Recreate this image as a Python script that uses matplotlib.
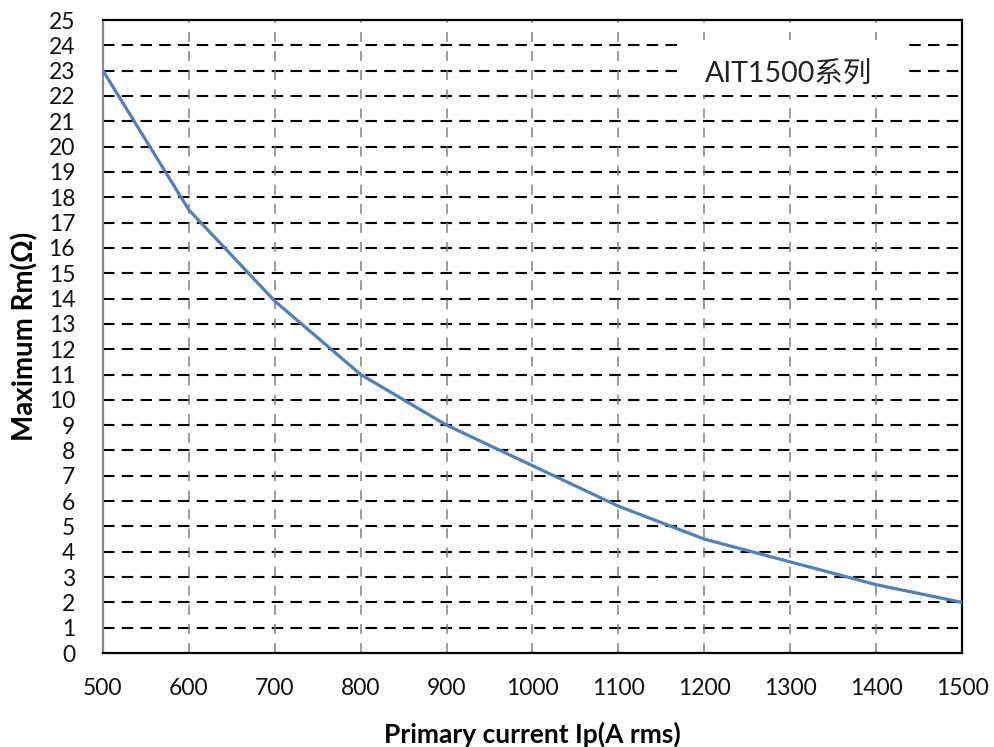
import matplotlib
matplotlib.use('Agg')
import matplotlib.pyplot as plt
from matplotlib.patches import Rectangle

# data
current = [500, 600, 700, 800, 900, 1000, 1100, 1200, 1300, 1400, 1500]
max_rm = [23, 17.5, 13.9, 11, 9, 7.4, 5.8, 4.5, 3.6, 2.7, 2]
x_ticks = list(range(500, 1501, 100))
y_ticks = list(range(0, 26))
series_name = 'AIT1500系列'

plt.rcParams['font.family'] = ['Lato', 'Noto Sans CJK SC', 'DejaVu Sans']

fig = plt.figure(figsize=(9.94, 7.47), dpi=100)
ax = fig.add_axes([0.1036, 0.1258, 0.8642, 0.8474])

# grid: black dashed horizontal, grey dashed vertical
for y in y_ticks[1:-1]:
    ax.axhline(y, color='black', lw=1.5, dashes=(5.5, 3.5), zorder=1)
for x in x_ticks[1:-1]:
    ax.axvline(x, color='#808080', lw=1.1, dashes=(6.5, 6), zorder=1)

ax.plot(current, max_rm, color='#4F7FBC', lw=2.3, zorder=3, solid_capstyle='butt')

ax.set_xlim(500, 1500)
ax.set_ylim(0, 25)
ax.set_xticks(x_ticks)
ax.set_yticks(y_ticks)
ax.tick_params(length=0, labelsize=16.5, labelcolor='#111111')
ax.tick_params(axis='y', pad=20)
ax.tick_params(axis='x', pad=18)

for side in ['top', 'right', 'bottom']:
    ax.spines[side].set_color('black')
    ax.spines[side].set_linewidth(1.6)
ax.spines['left'].set_color('#888888')
ax.spines['left'].set_linewidth(1.6)

ax.set_xlabel('Primary current Ip(A rms)', fontsize=19, fontweight='bold', labelpad=16)
ax.set_ylabel('Maximum Rm(Ω)', fontsize=20, fontweight='bold', labelpad=7)

# white label box covering the grid
ax.add_patch(Rectangle((0.675, 0.882), 0.255, 0.086, transform=ax.transAxes,
                       facecolor='white', edgecolor='none', zorder=2))
ax.text(0.798, 0.914, series_name, transform=ax.transAxes, fontsize=20.5,
        ha='center', va='center', color='#222222', zorder=4)

fig.savefig('out.png', dpi=100)
